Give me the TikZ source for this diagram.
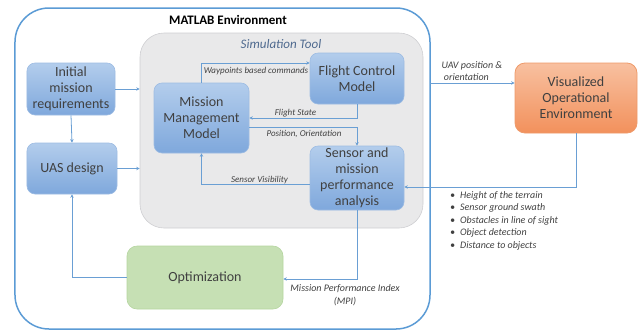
\documentclass[tikz,border=0pt]{standalone}
\usepackage{fontspec}
\setmainfont{Carlito}
\usetikzlibrary{arrows.meta,calc}
\definecolor{envblue}{HTML}{5B9BD5}
\definecolor{linkblue}{HTML}{6A9FD4}
\definecolor{boxtop}{HTML}{B3CDEC}
\definecolor{boxbot}{HTML}{7FA8DC}
\definecolor{boxedge}{HTML}{9DBCE3}
\definecolor{simfill}{HTML}{E9E9EA}
\definecolor{simedge}{HTML}{CFCFD2}
\definecolor{simtitle}{HTML}{4F6A8F}
\definecolor{optfill}{HTML}{C6E0B4}
\definecolor{optedge}{HTML}{B5D5A0}
\definecolor{vistop}{HTML}{F8C0A0}
\definecolor{visbot}{HTML}{F2915C}
\definecolor{visedge}{HTML}{EE9A6A}
\definecolor{txt}{HTML}{404040}
\tikzset{
  bluebox/.style={draw=boxedge, line width=0.6bp, rounded corners=8bp,
    top color=boxtop, bottom color=boxbot, text=txt, align=center,
    font=\fontsize{14bp}{16bp}\selectfont, inner sep=0pt},
  link/.style={draw=linkblue, line width=0.8bp,
    -{Stealth[length=3.5bp,width=3.5bp]}},
  lbl/.style={text=txt, font=\fontsize{9bp}{11bp}\selectfont\itshape, inner sep=0pt},
  biglbl/.style={text=txt, font=\fontsize{10bp}{12.5bp}\selectfont\itshape, inner sep=0pt},
}
\begin{document}
\begin{tikzpicture}[x=1bp,y=-1bp]
\useasboundingbox (0,0) rectangle (638,331);
% MATLAB environment frame
\node[draw=envblue, line width=1.5bp, rounded corners=34bp, minimum width=415bp,
  minimum height=321bp, inner sep=0pt] (matlab) at (222.5,168.5) {};
\node[font=\fontsize{13bp}{15bp}\selectfont\bfseries, inner sep=0pt] (mtitle) at (228,20) {MATLAB Environment};
% simulation tool container
\node[draw=simedge, fill=simfill, line width=0.6bp, rounded corners=24bp,
  minimum width=283bp, minimum height=195bp, inner sep=0pt] (sim) at (281.5,130.5) {};
\node[text=simtitle, font=\fontsize{13bp}{15bp}\selectfont\itshape, inner sep=0pt] (stitle) at (281,44) {Simulation Tool};
% blocks
\node[bluebox, minimum width=88bp, minimum height=52bp] (init) at (71,89) {Initial\\mission\\requirements};
\node[bluebox, minimum width=90bp, minimum height=51bp] (uas) at (72,168.5) {UAS design};
\node[bluebox, minimum width=95bp, minimum height=70bp] (mmm) at (201.5,118) {Mission\\Management\\Model};
\node[bluebox, minimum width=94bp, minimum height=51bp] (fcm) at (357,78.5) {Flight Control\\Model};
\node[bluebox, minimum width=94bp, minimum height=64bp] (sens) at (357,178) {Sensor and\\mission\\performance\\analysis};
\node[draw=optedge, fill=optfill, line width=0.6bp, rounded corners=10bp, text=txt,
  font=\fontsize{14bp}{16bp}\selectfont, minimum width=156bp, minimum height=63bp,
  inner sep=0pt] (opt) at (205,277.5) {Optimization};
\node[draw=visedge, line width=0.8bp, rounded corners=10bp, top color=vistop,
  bottom color=visbot, text=txt, align=center, font=\fontsize{14bp}{16bp}\selectfont,
  minimum width=122bp, minimum height=70bp, inner sep=0pt] (vis) at (576,98) {Visualized\\Operational\\Environment};
% connectors
\draw[link] (init.east) -- (init.east -| sim.west);
\draw[link] (uas.east) -- (uas.east -| sim.west);
\draw[link] (init.south) -- (uas.north);
\draw[link] (opt.west) -| (uas.south);
\draw[link] (mmm.north) |- ($(fcm.west)+(0,-15.5)$);
\draw[link] (fcm.south) |- (mmm.east);
\draw[link] ($(mmm.east)+(0,9)$) -| (sens.north);
\draw[link] ($(sens.west)+(0,6)$) -| (mmm.south);
\draw[link] (sens.south) |- ($(opt.east)+(0,1.5)$);
\coordinate (uavout) at (430,83);
\draw[link] (uavout) -- (uavout -| vis.west);
\draw[link] (vis.south) |- ($(sens.east)+(0,9)$);
% connector labels
\node[lbl] (l1) at (256,71.5) {Waypoints based commands};
\node[lbl] (l2) at (295.5,113) {Flight State};
\node[lbl] (l3) at (304,134) {Position, Orientation};
\node[lbl] (l4) at (259.5,180.5) {Sensor Visibility};
\node[biglbl, align=center, font=\fontsize{10bp}{13.5bp}\selectfont\itshape] (l5) at (345,295) {Mission Performance Index\\(MPI)};
\node[biglbl, anchor=west, align=left] (l6) at (441.5,71) {UAV position \&\\\ orientation};
\node[biglbl, anchor=north west, align=left] (l7) at (450,191) {%
  \textbullet\enspace Height of the terrain\\
  \textbullet\enspace Sensor ground swath\\
  \textbullet\enspace Obstacles in line of sight\\
  \textbullet\enspace Object detection\\
  \textbullet\enspace Distance to objects};
\end{tikzpicture}
\end{document}
